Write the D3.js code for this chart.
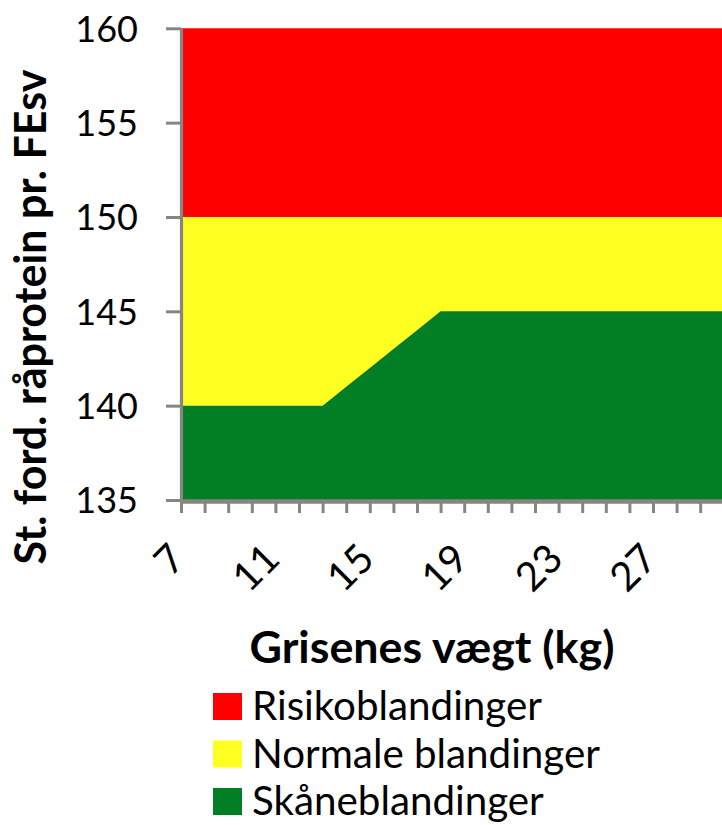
<!DOCTYPE html>
<html>
<head>
<meta charset="utf-8">
<script src="https://cdn.jsdelivr.net/npm/d3@7"></script>
<style>
  html, body { margin: 0; padding: 0; background: #fff; overflow: hidden; }
  svg { display: block; }
  text { font-family: Lato, "Open Sans", sans-serif; fill: #000; }
</style>
</head>
<body>
<div id="chart"></div>
<script>
// Weights (kg) on the category axis.
var weights = [7, 8, 9, 10, 11, 12, 13, 14, 15, 16, 17, 18, 19, 20, 21, 22, 23, 24, 25, 26, 27, 28, 29, 30];

// Upper edge of each band (g per FEsv).
var skaneTop   = [140, 140, 140, 140, 140, 140, 140, 141, 142, 143, 144, 145, 145, 145, 145, 145, 145, 145, 145, 145, 145, 145, 145, 145];
var normaleTop = [150, 150, 150, 150, 150, 150, 150, 150, 150, 150, 150, 150, 150, 150, 150, 150, 150, 150, 150, 150, 150, 150, 150, 150];
var risikoTop  = [160, 160, 160, 160, 160, 160, 160, 160, 160, 160, 160, 160, 160, 160, 160, 160, 160, 160, 160, 160, 160, 160, 160, 160];

var seriesNames = ['Risikoblandinger', 'Normale blandinger', 'Skåneblandinger'];
var seriesColors = ['#ff0000', '#ffff22', '#027f24'];
var yTicks = [135, 140, 145, 150, 155, 160];
var xLabelEvery = 4;

var _width = 722;
var _height = 825;
var _axisColor = '#878581';

var svg = d3.select('#chart').append('svg')
    .attr('width', _width)
    .attr('height', _height);

var x = d3.scaleLinear()
    .domain([weights[0], weights[weights.length - 1]])
    .range([181, 723.8]);

var y = d3.scaleLinear()
    .domain([135, 160])
    .range([500, 28.3]);

// Bands, top to bottom.
var bands = [
    { top: risikoTop, bottom: normaleTop, color: seriesColors[0] },
    { top: normaleTop, bottom: skaneTop, color: seriesColors[1] },
    { top: skaneTop, bottom: null, color: seriesColors[2] }
];

bands.forEach(function(b) {
    var area = d3.area()
        .x(function(d, i) { return x(weights[i]); })
        .y0(function(d, i) { return b.bottom ? y(b.bottom[i]) : y(y.domain()[0]); })
        .y1(function(d, i) { return y(b.top[i]); });
    svg.append('path')
        .datum(weights)
        .attr('d', area)
        .attr('fill', b.color);
});

// Y axis.
var yAxis = svg.append('g')
    .attr('transform', 'translate(181,0)')
    .call(d3.axisLeft(y).tickValues(yTicks).tickSize(15).tickSizeOuter(0).tickPadding(28));
yAxis.select('.domain').attr('stroke', _axisColor).attr('stroke-width', 3.2);
yAxis.selectAll('.tick line').attr('stroke', _axisColor).attr('stroke-width', 3);
yAxis.selectAll('.tick text')
    .style('font-size', '36px')
    .attr('dy', '0.36em');

// X axis.
var xAxis = svg.append('g')
    .attr('transform', 'translate(0,501)')
    .call(d3.axisBottom(x).tickValues(weights).tickSize(12).tickSizeOuter(0)
        .tickFormat(function(d) { return (d - weights[0]) % xLabelEvery === 0 ? d : ''; }));
xAxis.select('.domain').attr('stroke', _axisColor).attr('stroke-width', 4.5);
xAxis.selectAll('.tick line').attr('stroke', _axisColor).attr('stroke-width', 3);
xAxis.selectAll('.tick text')
    .style('font-size', '40px')
    .attr('text-anchor', 'end')
    .attr('y', 0)
    .attr('dy', 0)
    .attr('transform', 'translate(6,60) rotate(-45)');

// Axis titles.
function fitText(sel, width) {
    var w = sel.node().getComputedTextLength();
    var fs = parseFloat(sel.style('font-size'));
    sel.style('font-size', (fs * width / w) + 'px');
}

var yTitle = svg.append('text')
    .attr('transform', 'translate(46,317) rotate(-90)')
    .attr('text-anchor', 'middle')
    .style('font-weight', 'bold')
    .style('font-size', '32px')
    .text('St. ford. råprotein pr. FEsv');
fitText(yTitle, 495);

var xTitle = svg.append('text')
    .attr('x', 432)
    .attr('y', 663)
    .attr('text-anchor', 'middle')
    .style('font-weight', 'bold')
    .style('font-size', '36px')
    .text('Grisenes vægt (kg)');
fitText(xTitle, 365);

// Legend.
var legend = svg.append('g').attr('transform', 'translate(213,693)');
seriesNames.forEach(function(name, i) {
    var row = legend.append('g').attr('transform', 'translate(0,' + (i * 47.5) + ')');
    row.append('rect')
        .attr('width', 29)
        .attr('height', 27)
        .attr('fill', seriesColors[i]);
    var t = row.append('text')
        .attr('x', 39)
        .attr('y', 27)
        .style('font-size', '38px')
        .text(name);
    if (i === 0) fitText(t, 290);
    else t.style('font-size', legend.select('text').style('font-size'));
});
</script>
</body>
</html>
